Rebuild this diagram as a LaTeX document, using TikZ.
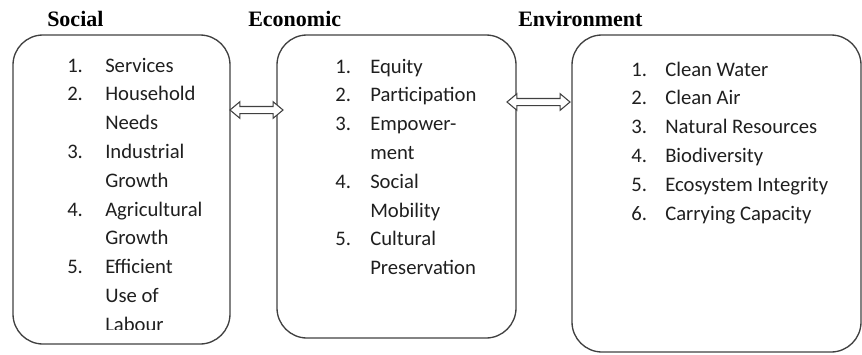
\documentclass[tikz,border=0pt]{standalone}
\usepackage{fontspec}
\setmainfont{Carlito}
\newfontfamily\titlefont{Liberation Serif}
\usetikzlibrary{shapes.arrows}
\tikzset{
  box/.style={draw=black!75, line width=1pt, rounded corners=22.5pt, inner sep=0pt, fill=none},
  title/.style={font=\titlefont\fontsize{16.5}{18}\selectfont\bfseries, inner sep=0pt, anchor=base west, text=black},
  lst/.style={font=\fontsize{15.5}{21.6}\selectfont, align=left, inner sep=0pt, anchor=base west, text=black!88},
  dbl/.style={double arrow, draw=black!75, fill=white, line width=0.8pt, inner xsep=0pt, inner ysep=2.25pt, double arrow head extend=3.6pt, double arrow tip angle=80, minimum height=#1},
}
\newcommand{\nm}[2][28.5px]{\makebox[#1][l]{#2}}
\begin{document}
\begin{tikzpicture}[x=0.75pt,y=-0.75pt]
\useasboundingbox (0,0) rectangle (862,354);
% boxes
\node[box, minimum width=162.75pt, minimum height=231.75pt] (s) at (121.5,189.5) {};
\node[box, minimum width=179.25pt, minimum height=227.25pt] (ec) at (396.5,186.5) {};
\node[box, minimum width=216.75pt, minimum height=237.75pt] (en) at (716.5,193.5) {};
% titles
\node[title] (ts) at (47,26) {Social};
\node[title] (tec) at (248,26) {Economic};
\node[title] (ten) at (518,26) {Environment};
% lists (anchored at the baseline of their last line)
\begin{scope}
\clip (s.north west) rectangle (230,329);
\node[lst] (ls) at (67,331.2) {\nm[28.5pt]{1.}Services\\
\nm[28.5pt]{2.}Household\\
\hspace*{28.5pt}Needs\\
\nm[28.5pt]{3.}Industrial\\
\hspace*{28.5pt}Growth\\
\nm[28.5pt]{4.}Agricultural\\
\hspace*{28.5pt}Growth\\
\nm[28.5pt]{5.}Efficient\\
\hspace*{28.5pt}Use of\\
\hspace*{28.5pt}Labour};
\end{scope}
\node[lst] (lec) at (335,274.6) {\nm[26.25pt]{1.}Equity\\
\nm[26.25pt]{2.}Participation\\
\nm[26.25pt]{3.}Empower-\\
\hspace*{26.25pt}ment\\
\nm[26.25pt]{4.}Social\\
\hspace*{26.25pt}Mobility\\
\nm[26.25pt]{5.}Cultural\\
\hspace*{26.25pt}Preservation};
\node[lst] (len) at (631,220) {\nm[25.5pt]{1.}Clean Water\\
\nm[25.5pt]{2.}Clean Air\\
\nm[25.5pt]{3.}Natural Resources\\
\nm[25.5pt]{4.}Biodiversity\\
\nm[25.5pt]{5.}Ecosystem Integrity\\
\nm[25.5pt]{6.}Carrying Capacity};
% double arrows
\node[dbl=39.75pt] (a1) at (256.5,110) {};
\node[dbl=47.25pt] (a2) at (538.5,102) {};
\end{tikzpicture}
\end{document}
